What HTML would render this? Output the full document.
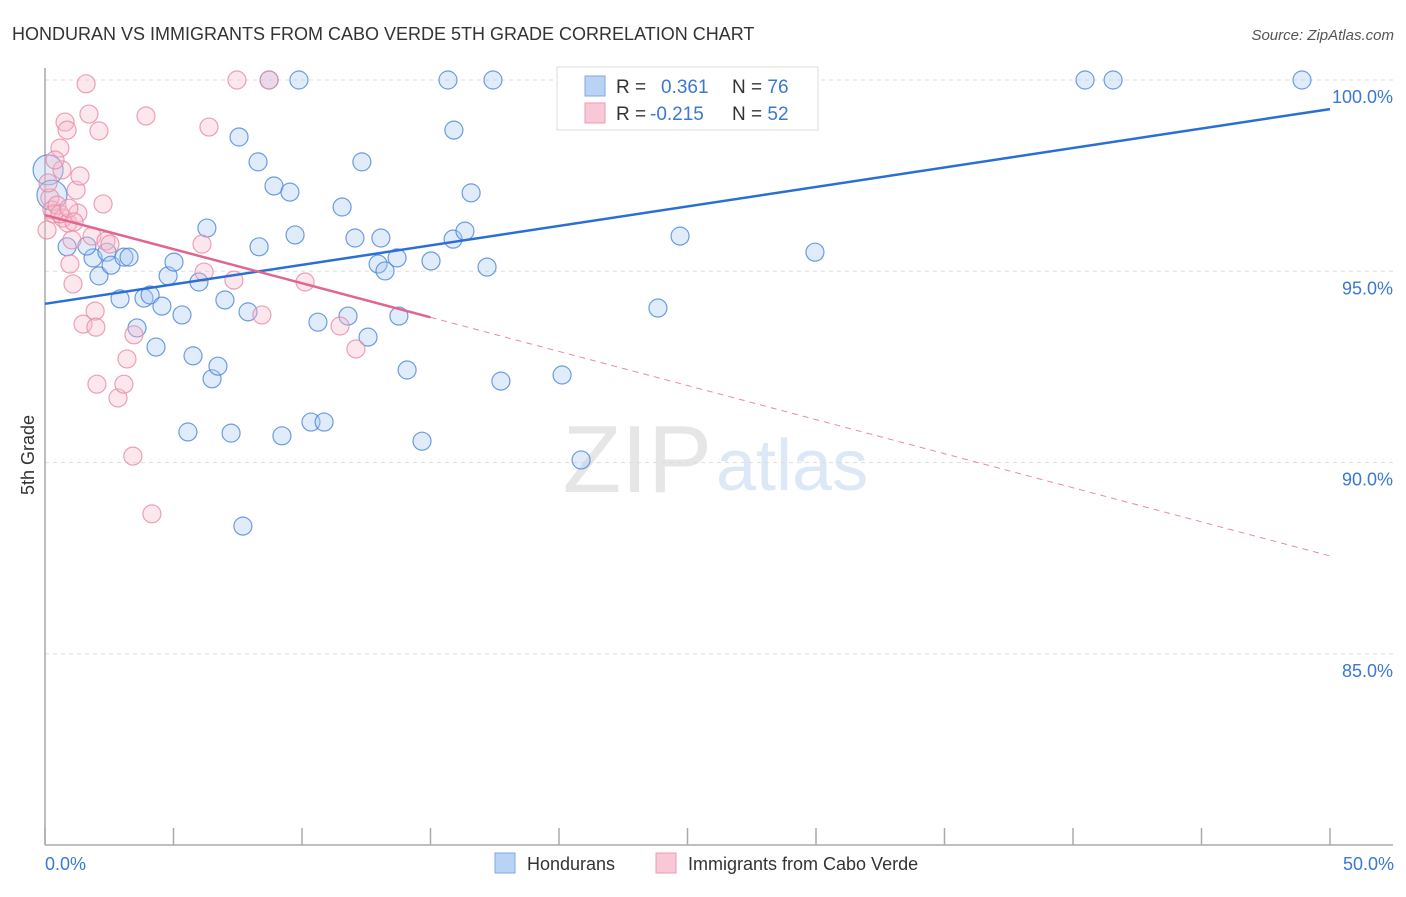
<!DOCTYPE html>
<html><head><meta charset="utf-8"><style>
body{margin:0;background:#fff;font-family:"Liberation Sans",sans-serif}
svg text{font-family:"Liberation Sans",sans-serif}
</style></head><body>
<svg width="1406" height="892">
<text x="12" y="40" font-size="18" fill="#333">HONDURAN VS IMMIGRANTS FROM CABO VERDE 5TH GRADE CORRELATION CHART</text>
<text x="1394" y="40" font-size="15" fill="#555" font-style="italic" text-anchor="end">Source: ZipAtlas.com</text>
<text x="712" y="492" font-size="96" fill="#e6e6e6" text-anchor="end" font-family="Liberation Serif">ZIP</text>
<text x="716" y="490" font-size="72" fill="#dde8f6">atlas</text>
<g id="grid"></g>
<g id="axes"></g>
<g id="pts"></g>
<g id="trend"></g>
<text transform="translate(34,455) rotate(-90)" font-size="18" fill="#333" text-anchor="middle">5th Grade</text>
<text x="45" y="870" font-size="18" fill="#3a78d4">0.0%</text>
<text x="1394" y="870" font-size="18" fill="#3a78d4" text-anchor="end">50.0%</text>
<g>
<rect x="557" y="67" width="261" height="63" fill="#fff" stroke="#ddd"/>
<rect x="585" y="76" width="20" height="20" fill="#b9d3f5" stroke="#7ea8e6"/>
<rect x="585" y="103" width="20" height="20" fill="#f8c8d6" stroke="#eb9ab3"/>
<text x="616" y="93" font-size="19" fill="#333">R = <tspan fill="#3a78d4" x="661">0.361</tspan><tspan fill="#333" x="732">N = </tspan><tspan fill="#3a78d4">76</tspan></text>
<text x="616" y="120" font-size="19" fill="#333">R = <tspan fill="#3a78d4" x="650">-0.215</tspan><tspan fill="#333" x="732">N = </tspan><tspan fill="#3a78d4">52</tspan></text>
</g>
<g>
<rect x="495" y="853" width="20" height="20" fill="#b9d3f5" stroke="#7ea8e6"/>
<text x="527" y="870" font-size="18" fill="#333">Hondurans</text>
<rect x="656" y="853" width="20" height="20" fill="#f8c8d6" stroke="#eb9ab3"/>
<text x="688" y="870" font-size="18" fill="#333">Immigrants from Cabo Verde</text>
</g>
</svg>
<script>
const yTicks=[100,95,90,85];
const yTickLabels=["100.0%","95.0%","90.0%","85.0%"];
const xTicks=[0,5,10,15,20,25,30,35,40,45,50];
const blueX=[0.12,0.27,0.86,1.87,2.10,1.63,2.41,2.57,3.07,3.27,2.92,3.58,3.85,4.09,4.32,4.55,4.79,5.02,5.33,5.56,5.76,5.99,6.30,6.50,6.73,7.00,7.24,7.55,7.70,7.90,8.29,8.33,8.72,8.91,9.22,9.53,9.73,9.88,10.35,10.62,10.86,11.56,11.79,12.06,12.33,12.57,12.96,13.07,13.23,13.70,13.77,14.09,14.67,15.02,15.68,15.88,15.91,16.34,16.58,17.20,17.43,17.74,20.12,20.86,23.85,24.71,24.94,27.82,28.13,29.96,40.47,41.56,48.91];
const blueY=[97.65,96.99,95.64,95.35,94.88,95.66,95.50,95.16,95.37,95.37,94.28,93.52,94.30,94.38,93.02,94.09,94.88,95.24,93.86,90.80,92.79,94.72,96.13,92.19,92.52,94.25,90.77,98.51,88.34,93.94,97.86,95.64,100,97.23,90.70,97.07,95.95,100,91.06,93.67,91.06,96.68,93.83,95.87,97.86,93.28,95.19,95.87,95.01,95.35,93.83,92.42,90.56,95.27,100,95.84,98.69,96.05,97.05,95.11,100,92.13,92.29,90.07,94.04,95.92,100,100,100,95.50,100,100,100];
const pinkX=[0.08,0.19,0.27,0.35,0.47,0.58,0.66,0.70,0.78,0.86,0.89,0.97,1.05,1.09,1.21,1.28,1.36,1.48,1.60,1.71,1.83,1.95,1.98,2.02,2.10,2.26,2.37,2.53,2.84,3.07,3.19,3.42,3.46,3.93,4.16,6.11,6.19,6.38,7.35,7.47,8.44,8.72,10.12,11.48,12.10,0.58,0.12,0.39,0.93,1.13];
const pinkY=[96.08,96.92,96.60,96.50,96.73,98.22,97.65,96.39,98.90,98.69,96.26,95.19,95.82,94.67,97.12,96.52,97.49,93.62,99.90,99.11,95.92,93.96,93.54,92.05,98.67,96.76,95.79,95.71,91.69,92.05,92.71,90.17,93.34,99.06,88.66,95.71,94.98,98.77,94.77,100,93.86,100,94.72,93.57,92.97,96.50,97.31,97.91,96.65,96.29];
const blueTrend=[94.15,99.24];
const pinkTrend=[96.47,87.56];
const pinkSolidEnd=15;
const NS="http://www.w3.org/2000/svg";
const sx=v=>45+v*25.7, sy=v=>80+(100-v)*38.26;
function mk(t,a,p){const e=document.createElementNS(NS,t);for(const k in a)e.setAttribute(k,a[k]);p.appendChild(e);return e;}
const grid=document.getElementById('grid'),axes=document.getElementById('axes'),pts=document.getElementById('pts'),tr=document.getElementById('trend');
yTicks.forEach((v,i)=>{
 const l=mk('line',{x1:45,x2:1393,y1:sy(v),y2:sy(v),stroke:'#ddd','stroke-dasharray':'4,4'},grid);
 
 
 const t=mk('text',{x:1393,y:sy(v)+23,'font-size':18,fill:'#3a78d4','text-anchor':'end'},grid);
 t.textContent=yTickLabels[i];
 
 
});
let a=mk('line',{x1:45,x2:45,y1:68,y2:845,stroke:'#aaa','stroke-width':1.5},axes);


a=mk('line',{x1:45,x2:1393,y1:845,y2:845,stroke:'#aaa','stroke-width':1.5},axes);


xTicks.forEach(v=>{
 const l=mk('line',{x1:sx(v),x2:sx(v),y1:828,y2:845,stroke:'#aaa','stroke-width':1.5},axes);
 
 
});
function draw(X,Y,fill,stroke,name){
 X.forEach((x,i)=>{
  const r=(x<0.3&&name==='honduran-point')?15:9;
  const c=mk('circle',{cx:sx(x),cy:sy(Y[i]),r:r,fill:fill,'fill-opacity':0.35,stroke:stroke,'stroke-opacity':0.8,'stroke-width':1.2},pts);
  
  
 });
}
draw(blueX,blueY,'#a9c8f0','#4a86d8','honduran-point');
draw(pinkX,pinkY,'#f6b9cc','#e88aa8','cabo-verde-point');
let t=mk('line',{x1:sx(0),y1:sy(blueTrend[0]),x2:sx(50),y2:sy(blueTrend[1]),stroke:'#2a6fd6','stroke-width':2.5},tr);


const pe=pinkTrend[0]+(pinkTrend[1]-pinkTrend[0])*pinkSolidEnd/50;
t=mk('line',{x1:sx(0),y1:sy(pinkTrend[0]),x2:sx(pinkSolidEnd),y2:sy(pe),stroke:'#e0668f','stroke-width':2.5},tr);


t=mk('line',{x1:sx(pinkSolidEnd),y1:sy(pe),x2:sx(50),y2:sy(pinkTrend[1]),stroke:'#e88aa8','stroke-width':1,'stroke-dasharray':'6,5'},tr);


</script>
</body></html>
